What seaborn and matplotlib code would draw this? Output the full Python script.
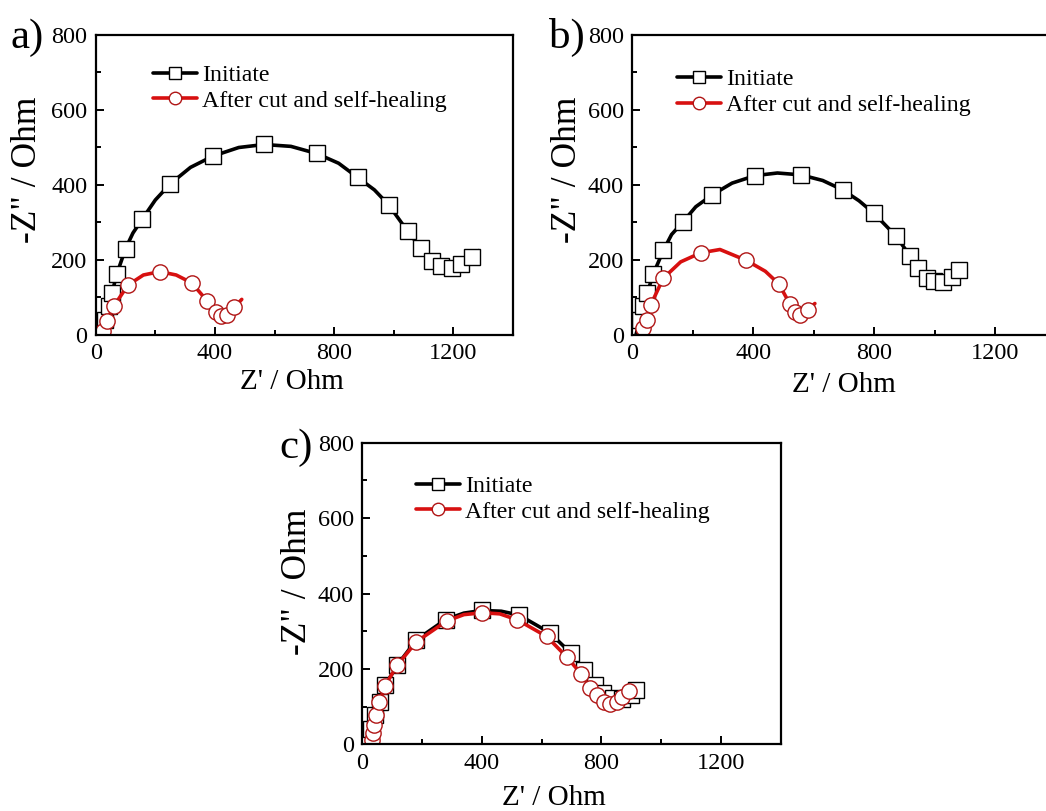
import matplotlib
matplotlib.use("Agg")
import matplotlib.pyplot as plt
from matplotlib.lines import Line2D
from matplotlib.ticker import MultipleLocator
import seaborn as sns
import pandas as pd

sns.set_theme(style="ticks")
plt.rcParams["font.family"] = ["Liberation Serif", "DejaVu Serif"]
plt.rcParams.update({"text.color": "black", "axes.labelcolor": "black",
                     "xtick.color": "black", "ytick.color": "black",
                     "axes.edgecolor": "black"})

# ---------------- data ----------------
labels = ["Initiate", "After cut and self-healing"]
x_ticks = [0, 400, 800, 1200]
y_ticks = [0, 200, 400, 600, 800]

# panel a
a_init_x = [18, 30, 43, 55, 71, 100, 125, 157, 200, 250, 318, 393, 480, 565, 655, 741, 815, 879, 935, 983, 1047, 1092, 1127, 1158, 1195, 1225, 1262, 1285]
a_init_y = [0, 40, 77, 113, 163, 230, 272, 310, 360, 403, 447, 477, 500, 508, 503, 484, 458, 420, 387, 347, 276, 231, 198, 184, 178, 188, 207, 225]
a_init_m = [1, 2, 3, 4, 5, 7, 9, 11, 13, 15, 17, 19, 20, 21, 22, 23, 24, 25, 26]
a_heal_x = [15, 25, 37, 60, 108, 160, 215, 270, 322, 375, 405, 422, 442, 465, 490]
a_heal_y = [0, 11, 38, 76, 133, 160, 169, 160, 139, 90, 60, 50, 54, 74, 95]
a_heal_m = [1, 2, 3, 4, 6, 8, 9, 10, 11, 12, 13]

# panel b
b_init_x = [12, 25, 36, 50, 69, 103, 130, 167, 210, 265, 330, 406, 480, 558, 630, 696, 750, 800, 872, 919, 946, 974, 999, 1027, 1057, 1082]
b_init_y = [0, 40, 77, 113, 162, 226, 268, 301, 342, 374, 405, 425, 432, 427, 412, 387, 358, 324, 264, 211, 178, 152, 143, 142, 154, 172]
b_init_m = [1, 2, 3, 4, 5, 7, 9, 11, 13, 15, 17, 18, 19, 20, 21, 22, 23, 24, 25]
b_heal_x = [20, 36, 48, 61, 102, 160, 226, 290, 377, 440, 485, 521, 538, 555, 580, 604]
b_heal_y = [0, 18, 40, 80, 151, 195, 219, 228, 199, 170, 136, 83, 61, 53, 67, 84]
b_heal_m = [1, 2, 3, 4, 6, 8, 10, 11, 12, 13, 14]

# panel c
c_init_x = [14, 30, 42, 59, 76, 117, 181, 279, 340, 401, 465, 524, 627, 699, 743, 777, 805, 838, 869, 899, 916]
c_init_y = [0, 40, 77, 113, 156, 210, 277, 331, 348, 355, 353, 343, 296, 241, 197, 157, 135, 122, 119, 131, 144]
c_init_m = [1, 2, 3, 4, 5, 6, 7, 9, 11, 12, 13, 14, 15, 16, 17, 18, 19, 20]
c_heal_x = [14, 31, 35, 40, 46, 57, 76, 117, 181, 282, 340, 402, 460, 519, 617, 685, 732, 763, 786, 808, 830, 852, 868, 891]
c_heal_y = [0, 12, 29, 51, 78, 111, 155, 210, 272, 327, 344, 349, 346, 330, 286, 231, 187, 149, 131, 113, 107, 113, 126, 142]
c_heal_m = [1, 2, 3, 4, 5, 6, 7, 8, 9, 11, 13, 14, 15, 16, 17, 18, 19, 20, 21, 22, 23]

panels = [
    ("a)", (a_init_x, a_init_y, a_init_m), (a_heal_x, a_heal_y, a_heal_m)),
    ("b)", (b_init_x, b_init_y, b_init_m), (b_heal_x, b_heal_y, b_heal_m)),
    ("c)", (c_init_x, c_init_y, c_init_m), (c_heal_x, c_heal_y, c_heal_m)),
]

# ---------------- styling / layout ----------------
W, H = 1046, 811
fig = plt.figure(figsize=(W / 100, H / 100), dpi=100)
fig.patch.set_facecolor("white")

# axes boxes in pixels: left, top, right, bottom
boxes = [(95.7, 35, 513, 335), (632.3, 35, 1055.5, 335), (362.3, 442.7, 780.7, 744.3)]
legend_anchor = [(0.137, 0.902), (0.106, 0.888), (0.128, 0.892)]
label_pos = [(10, 48), (549, 48), (279, 458)]
xlabel_xy = [(0.470, -0.112), (0.500, -0.122), (0.458, -0.134)]
ylabel_xy = [(-0.123, 0.55), (-0.114, 0.55), (-0.115, 0.54)]

BLACK = "#000000"
RED = "#d81010"
RED_EDGE = "#b01515"

for (tag, init, heal), (l, t, r, b), anc, lp, xl, yl in zip(
        panels, boxes, legend_anchor, label_pos, xlabel_xy, ylabel_xy):
    ax = fig.add_axes([l / W, 1 - b / H, (r - l) / W, (b - t) / H])
    ax.set_facecolor("white")
    series = [
        (init, BLACK, BLACK, "s", labels[0]),
        (heal, RED, RED_EDGE, "o", labels[1]),
    ]
    handles = []
    for (xs, ys, mk), lc, ec, m, lab in series:
        df = pd.DataFrame({"x": xs, "y": ys})
        sns.lineplot(data=df, x="x", y="y", ax=ax, sort=False, estimator=None,
                     color=lc, lw=2.6, marker=m, markevery=mk, markersize=11,
                     markerfacecolor="white", markeredgecolor=ec,
                     markeredgewidth=1.0, legend=False)
        handles.append(Line2D([], [], color=lc, lw=2.6, marker=m, markersize=9,
                              markerfacecolor="white", markeredgecolor=ec,
                              markeredgewidth=1.0, label=lab))
    ax.set_xlim(0, 1400)
    ax.set_ylim(0, 800)
    ax.set_xticks(x_ticks)
    ax.set_yticks(y_ticks)
    ax.xaxis.set_minor_locator(MultipleLocator(200))
    ax.yaxis.set_minor_locator(MultipleLocator(100))
    ax.tick_params(which="both", direction="in", width=1.4, colors="black",
                   top=False, right=False)
    ax.tick_params(which="major", length=6, labelsize=17.5)
    ax.tick_params(which="minor", length=3.5)
    ax.tick_params(axis="x", pad=6)
    ax.tick_params(axis="y", pad=6)
    for s in ax.spines.values():
        s.set_visible(True)
        s.set_linewidth(1.6)
        s.set_color("black")
    ax.set_xlabel("Z' / Ohm", fontsize=21)
    ax.set_ylabel('-Z" / Ohm', fontsize=25.5)
    ax.xaxis.set_label_coords(*xl)
    ax.yaxis.set_label_coords(*yl)
    ax.legend(handles=handles, loc="upper left", bbox_to_anchor=anc,
              frameon=False, fontsize=17.2, handlelength=1.85, handletextpad=0.2,
              labelspacing=0.16, borderaxespad=0, borderpad=0, numpoints=1)
    fig.text(lp[0] / W, 1 - lp[1] / H, tag, fontsize=31, ha="left", va="baseline")

fig.savefig("out.png", dpi=100, facecolor="white")
